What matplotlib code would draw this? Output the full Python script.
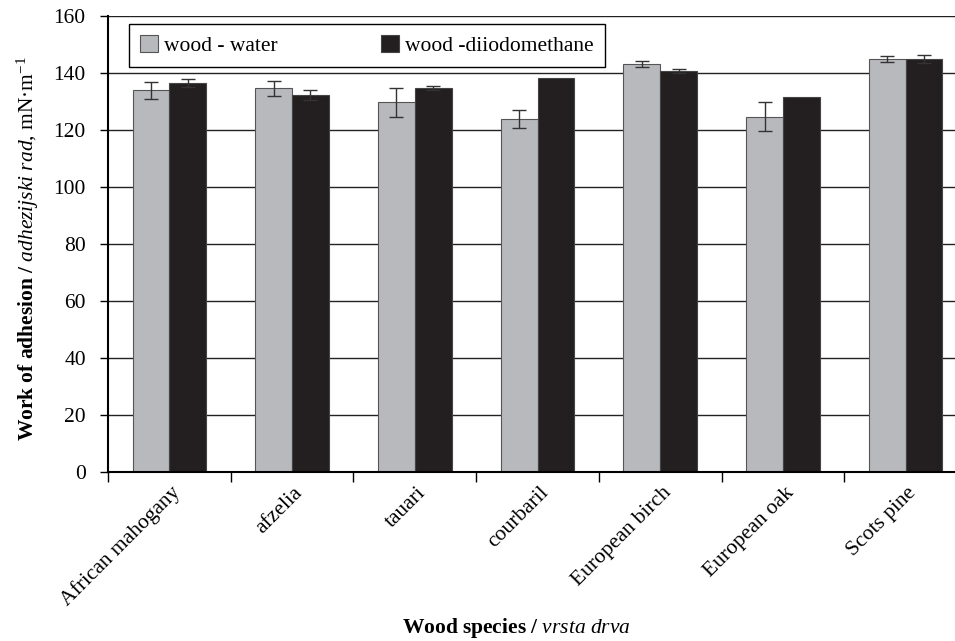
import matplotlib
matplotlib.use("Agg")
import matplotlib.pyplot as plt
import matplotlib.transforms as mtransforms
from matplotlib import font_manager
import numpy as np

# Pick an installed Times-like serif face
available = {f.name for f in font_manager.fontManager.ttflist}
serif_face = next((n for n in ["Liberation Serif", "Times New Roman", "Nimbus Roman",
                               "DejaVu Serif"] if n in available), "serif")

plt.rcParams['font.family'] = 'serif'
plt.rcParams['font.serif'] = [serif_face]
plt.rcParams['mathtext.fontset'] = 'custom'
plt.rcParams['mathtext.rm'] = serif_face
plt.rcParams['mathtext.it'] = serif_face + ':italic'
plt.rcParams['mathtext.bf'] = serif_face + ':bold'

species = ["African mahogany", "afzelia", "tauari", "courbaril",
           "European birch", "European oak", "Scots pine"]
water = [133.9, 134.7, 129.7, 123.9, 143.2, 124.7, 144.8]
water_err = [2.9, 2.6, 5.0, 3.2, 1.0, 5.0, 1.0]
diiodo = [136.5, 132.3, 134.8, 138.1, 140.7, 131.5, 144.9]
diiodo_err = [1.5, 1.6, 0.7, 0.0, 0.8, 0.0, 1.5]
series_names = ["wood - water", "wood -diiodomethane"]
yticks = [0, 20, 40, 60, 80, 100, 120, 140, 160]

W, H = 955, 641
fig = plt.figure(figsize=(W / 100, H / 100), dpi=100)
ax = fig.add_axes([108 / W, 1 - 472 / H, (967 - 108) / W, (472 - 16) / H])

x = np.arange(len(species))
bw = 0.3
gray = "#B8B9BD"
dark = "#231F20"

ax.set_axisbelow(True)
ax.yaxis.grid(True, color="#222222", linewidth=1.0)

ax.bar(x - bw / 2, water, bw, color=gray, edgecolor="#555555", linewidth=0.8,
       label=series_names[0], zorder=2)
ax.bar(x + bw / 2, diiodo, bw, color=dark, edgecolor="#444444", linewidth=0.8,
       label=series_names[1], zorder=2)

for xs, vals, errs in ((x - bw / 2, water, water_err), (x + bw / 2, diiodo, diiodo_err)):
    for xi, v, e in zip(xs, vals, errs):
        if e > 0:
            ax.errorbar(xi, v, yerr=e, fmt="none", ecolor="#333333",
                        elinewidth=1.0, capsize=5, capthick=1.0, zorder=3)

ax.set_xlim(-0.5, len(species) - 0.5)
ax.set_ylim(0, 160)
ax.set_yticks(yticks)
ax.tick_params(axis="y", direction="out", length=6, width=1, labelsize=15.5, pad=10)

ax.set_xticks(x)
ax.set_xticklabels(species, rotation=45, ha="right", va="center",
                   rotation_mode="anchor", fontsize=15.5)
ax.tick_params(axis="x", which="major", length=0, pad=13)
shift = mtransforms.ScaledTranslation(0.08, 0.0, fig.dpi_scale_trans)
for lbl in ax.get_xticklabels():
    lbl.set_transform(lbl.get_transform() + shift)
ax.set_xticks(np.arange(len(species) + 1) - 0.5, minor=True)
ax.tick_params(axis="x", which="minor", direction="out", length=7, width=1)

for s in ("top", "right"):
    ax.spines[s].set_visible(False)
ax.spines["left"].set_linewidth(1.5)
ax.spines["bottom"].set_linewidth(1.5)

ax.set_ylabel(r"$\mathbf{Work\ of\ adhesion\ /}$ $\mathit{adhezijski\ rad}$, mN·m$^{-1}$",
              fontsize=15.5)
ax.yaxis.set_label_coords(-0.078, 0.49)

fig.text(516 / W, 1 - 628 / H,
         r"$\mathbf{Wood\ species\ /}$ $\mathit{vrsta\ drva}$",
         ha="center", va="center", fontsize=15.5)

leg = ax.legend(loc="upper left", bbox_to_anchor=((129 - 108) / 859, (472 - 24) / 456),
                ncol=2, fontsize=15.5, frameon=True, fancybox=False, framealpha=1,
                edgecolor="black", borderaxespad=0, handlelength=0.85,
                handleheight=0.85, handletextpad=0.28, columnspacing=4.8,
                borderpad=0.5)
leg.get_frame().set_linewidth(1.0)

fig.savefig("out.png", dpi=100)
